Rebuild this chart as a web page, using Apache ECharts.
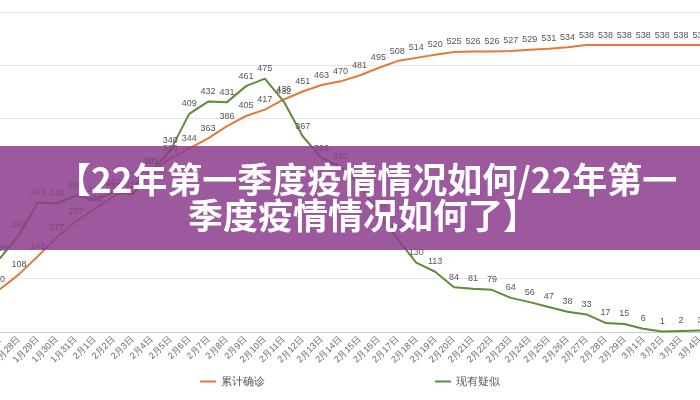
<!DOCTYPE html>
<html><head><meta charset="utf-8">
<script src="https://cdn.jsdelivr.net/npm/echarts@6/dist/echarts.min.js"></script>
<style>html,body{margin:0;padding:0;background:#fff}#c{width:700px;height:400px}</style>
</head><body><div id="c"></div>
<script>
const dates = ["1月27日","1月28日","1月29日","1月30日","1月31日","2月1日","2月2日","2月3日","2月4日","2月5日","2月6日","2月7日","2月8日","2月9日","2月10日","2月11日","2月12日","2月13日","2月14日","2月15日","2月16日","2月17日","2月18日","2月19日","2月20日","2月21日","2月22日","2月23日","2月24日","2月25日","2月26日","2月27日","2月28日","2月29日","3月1日","3月2日","3月3日","3月4日"];
const confirmed = [80,108,142,177,207,231,254,272,301,326,344,363,386,405,417,436,451,463,470,481,495,508,514,520,525,526,526,527,529,531,534,538,538,538,538,538,538,538];
const suspected = [138,182,243,241,256,248,262,258,301,340,409,432,431,461,475,432,367,326,310,277,220,175,130,113,84,81,79,64,56,47,38,33,17,15,6,1,2,3];
const seriesNames = ["累计确诊","现有疑似"];
const titleLine1 = "【22年第一季度疫情情况如何/22年第一";
const titleLine2 = "季度疫情情况如何了】";

const chart = echarts.init(document.getElementById('c'));
const lbl = {show:true, position:'top', fontSize:9, color:'#555', distance:5};
chart.setOption({
  backgroundColor:'#fff',
  animation:false,
  grid:{left:0,right:0,top:12,bottom:68,containLabel:false,outerBoundsMode:'none'},
  xAxis:{type:'category',data:dates,boundaryGap:false,
    axisLine:{lineStyle:{color:'#ccc'}},axisTick:{show:false},
    axisLabel:{rotate:45,fontSize:9,color:'#666',interval:0,margin:6}},
  yAxis:{type:'value',min:0,max:600,interval:100,axisLabel:{show:false},
    splitLine:{lineStyle:{color:'#e6e6e6'}}},
  legend:{bottom:8,left:'center',itemGap:170,icon:'rect',itemWidth:16,itemHeight:2,
    textStyle:{fontSize:11,color:'#555'}},
  series:[
    {name:seriesNames[0],type:'line',data:confirmed,symbol:'circle',symbolSize:1,
      lineStyle:{color:'#e07b39',width:2},itemStyle:{color:'#e07b39'},label:lbl},
    {name:seriesNames[1],type:'line',data:suspected,symbol:'circle',symbolSize:1,
      lineStyle:{color:'#5f8b3c',width:2},itemStyle:{color:'#5f8b3c'},label:lbl}
  ],
  graphic:[
    {type:'rect',left:0,top:146,shape:{width:700,height:104},z:100,
      style:{fill:'rgba(140,60,140,0.85)'}},
    {type:'text',left:56,top:162,z:101,style:{text:titleLine1,fill:'#fff',
      font:'bold 35px "Noto Sans CJK SC", sans-serif'}},
    {type:'text',left:188,top:198,z:101,style:{text:titleLine2,fill:'#fff',
      font:'bold 35px "Noto Sans CJK SC", sans-serif'}}
  ]
});
</script></body></html>
